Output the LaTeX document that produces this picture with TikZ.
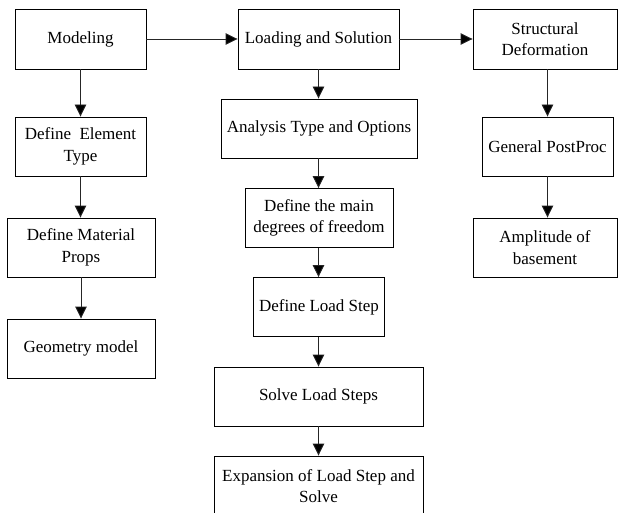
\documentclass[tikz,border=0pt]{standalone}
\usepackage{fontspec}
\setmainfont{Liberation Serif}
\usetikzlibrary{arrows.meta}
\begin{document}
\begin{tikzpicture}[x=1pt,y=-1pt,
  box/.style={draw=black, line width=0.9pt, rectangle, align=center, inner sep=0pt,
    font=\fontsize{17}{21.5}\selectfont},
  arr/.style={draw=black!85, line width=0.9pt, -{Triangle[width=11.5pt,length=12pt,fill=black]}}]
\useasboundingbox (0,0) rectangle (618,513);
% left column
\node[box, minimum width=131pt, minimum height=60pt] (model) at (80.5,39) {Modeling};
\node[box, minimum width=131pt, minimum height=59pt] (elem) at (80.5,146.5) {Define~~Element\\Type};
\node[box, minimum width=148pt, minimum height=59pt] (mat) at (81,247.5) {Define Material\\Props};
\node[box, minimum width=148pt, minimum height=59pt] (geom) at (81,348.5) {Geometry model};
% middle column
\node[box, minimum width=161pt, minimum height=60pt] (load) at (318.5,39) {Loading and Solution};
\node[box, minimum width=196pt, minimum height=59pt] (anal) at (319,128.5) {Analysis Type and Options};
\node[box, minimum width=148pt, minimum height=59pt] (dof) at (319,218) {Define the main\\degrees of freedom};
\node[box, minimum width=131pt, minimum height=59pt] (lstep) at (319,307) {Define Load Step};
\node[box, minimum width=209pt, minimum height=59pt] (solve) at (318.5,396.5) {Solve Load Steps};
\node[box, minimum width=209pt, minimum height=60pt] (expn) at (318.5,486) {Expansion of Load Step and\\Solve};
% right column
\node[box, minimum width=144pt, minimum height=60pt] (struct) at (545,39) {Structural\\Deformation};
\node[box, minimum width=131pt, minimum height=59pt] (post) at (547.5,146.5) {General PostProc};
\node[box, minimum width=144pt, minimum height=59pt] (amp) at (545,247.5) {Amplitude of\\basement};
% horizontal arrows
\draw[arr] (model.east) -- (load.west);
\draw[arr] (load.east) -- (struct.west);
% left arrows
\draw[arr] (model.south) -- (elem.north);
\draw[arr] (elem.south) -- (mat.north -| elem.south);
\draw[arr] (mat.south) -- (geom.north);
% middle arrows
\draw[arr] (load.south) -- (anal.north -| load.south);
\draw[arr] (anal.south -| load.south) -- (dof.north -| load.south);
\draw[arr] (dof.south -| load.south) -- (lstep.north -| load.south);
\draw[arr] (lstep.south -| load.south) -- (solve.north);
\draw[arr] (solve.south) -- (expn.north);
% right arrows
\draw[arr] (struct.south -| post.north) -- (post.north);
\draw[arr] (post.south) -- (amp.north -| post.south);
\end{tikzpicture}
\end{document}
